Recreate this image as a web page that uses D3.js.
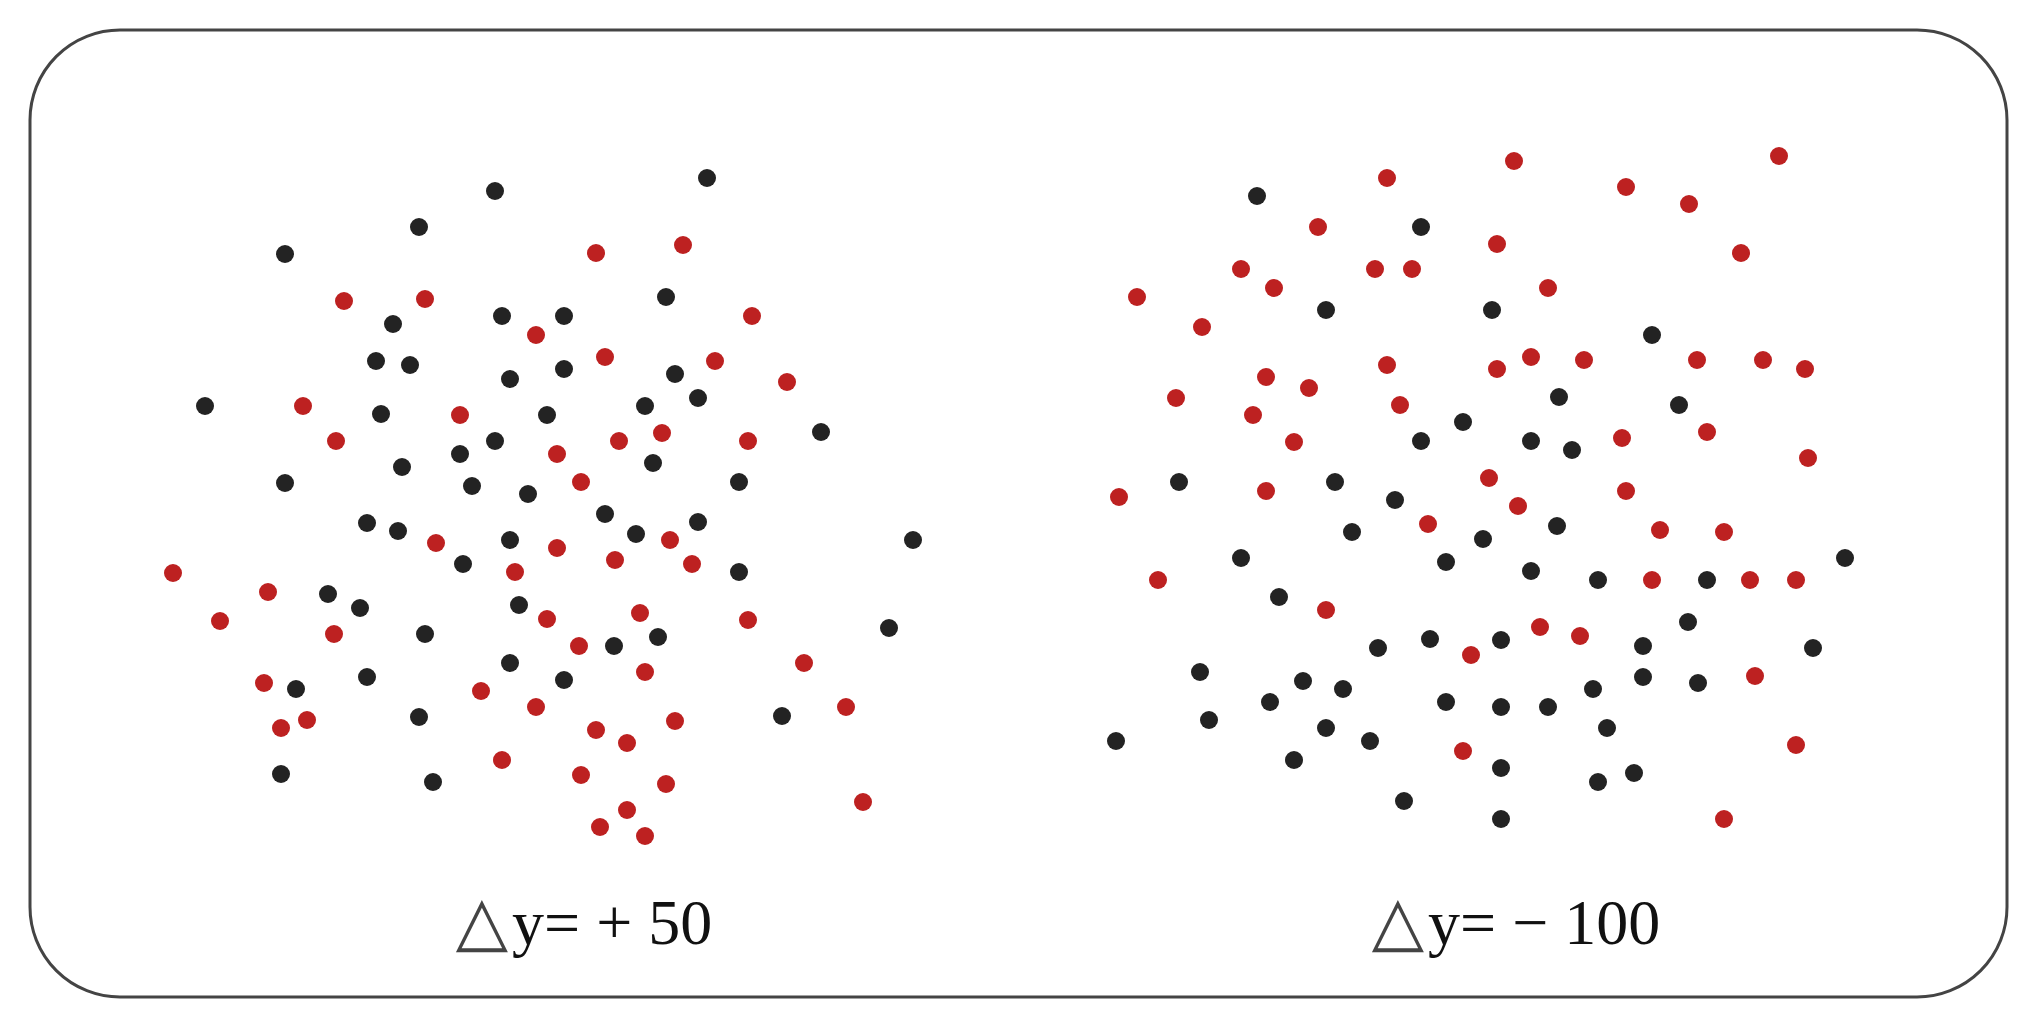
<!DOCTYPE html>
<html>
<head>
<meta charset="utf-8">
<script src="https://cdn.jsdelivr.net/npm/d3@7"></script>
<style>
  html, body { margin: 0; padding: 0; background: #fff; }
  .label { font-family: "Liberation Serif", "DejaVu Serif", serif; font-size: 64px; fill: #111; }
  .tri { font-family: "DejaVu Sans", sans-serif; font-size: 68px; }
</style>
</head>
<body>
<div id="chart"></div>
<script>
// Panel labels
const labels = ["y= + 50", "y= \u2212 100"];

// Left panel (dy = +50), points as [x, y] in panel units
const leftBlack = [
  [345, 669], [269, 633], [135, 606], [243, 536], [352, 544], [226, 499], [260, 495],
  [360, 481], [55, 454], [231, 446], [397, 445], [345, 419], [310, 406], [252, 393],
  [135, 377], [322, 374], [378, 366], [557, 682], [516, 563], [414, 544], [414, 491],
  [525, 486], [548, 462], [495, 454], [671, 428], [503, 397], [589, 378], [455, 346],
  [217, 337], [248, 329], [360, 320], [313, 296], [178, 266], [210, 252], [369, 255],
  [275, 226], [360, 197], [146, 171], [217, 183], [269, 143], [131, 86], [283, 78],
  [486, 326], [548, 338], [763, 320], [589, 288], [739, 232], [464, 214], [508, 223],
  [414, 180], [632, 144]
];
const leftRed = [
  [194, 559], [275, 561], [386, 525], [153, 454], [310, 445], [186, 419], [407, 406],
  [446, 607], [533, 615], [602, 544], [455, 503], [565, 499], [637, 478], [512, 427],
  [469, 419], [598, 419], [431, 378], [286, 317], [407, 312], [23, 287], [365, 288],
  [118, 268], [70, 239], [184, 226], [397, 241], [114, 177], [331, 169], [386, 153],
  [157, 140], [131, 132], [352, 100], [520, 320], [465, 300], [542, 296], [490, 247],
  [598, 240], [429, 214], [495, 188], [654, 197], [696, 153], [446, 130], [525, 139],
  [477, 117], [431, 85], [516, 76], [713, 58], [477, 50], [450, 33], [495, 24]
];

// Right panel (dy = -100)
const rightBlack = [
  [167, 664], [331, 633], [236, 550], [402, 550], [373, 438], [331, 419], [89, 378],
  [245, 378], [305, 360], [562, 525], [469, 463], [589, 455], [441, 419], [482, 410],
  [262, 328], [393, 321], [151, 302], [356, 298], [189, 263], [288, 212], [340, 221],
  [110, 188], [213, 179], [253, 171], [180, 158], [356, 158], [119, 140], [236, 132],
  [26, 119], [280, 119], [204, 100], [314, 59], [467, 334], [755, 302], [441, 289],
  [508, 280], [617, 280], [598, 238], [411, 220], [553, 214], [723, 212], [553, 183],
  [608, 177], [503, 171], [411, 153], [458, 153], [517, 132], [411, 92], [508, 78],
  [544, 87], [411, 41]
];
const rightRed = [
  [297, 682], [228, 633], [407, 616], [151, 591], [285, 591], [322, 591], [47, 563],
  [184, 572], [112, 533], [297, 495], [407, 491], [176, 483], [219, 472], [86, 462],
  [163, 445], [310, 455], [204, 418], [399, 382], [176, 369], [29, 363], [424, 699],
  [689, 704], [536, 673], [599, 656], [651, 607], [458, 572], [441, 503], [494, 500],
  [607, 500], [673, 500], [715, 491], [617, 428], [532, 422], [718, 402], [536, 369],
  [428, 354], [338, 336], [68, 280], [236, 250], [381, 205], [373, 109], [570, 330],
  [634, 328], [562, 280], [660, 280], [706, 280], [450, 233], [490, 224], [665, 184],
  [706, 115], [634, 41]
];

const W = 2040, H = 1027;
const colors = { black: "#232323", red: "#bd2121" };

const svg = d3.select("#chart").append("svg")
    .attr("width", W)
    .attr("height", H);

svg.append("rect")
    .attr("width", W).attr("height", H)
    .attr("fill", "#fff");

// rounded frame
svg.append("rect")
    .attr("x", 30).attr("y", 30)
    .attr("width", 1977).attr("height", 967)
    .attr("rx", 90).attr("ry", 90)
    .attr("fill", "none")
    .attr("stroke", "#444")
    .attr("stroke-width", 3);

const y = d3.scaleLinear().domain([0, 720]).range([860, 140]);

const panels = [
  { left: 150, black: leftBlack, red: leftRed, label: labels[0], labelX: 584 },
  { left: 1090, black: rightBlack, red: rightRed, label: labels[1], labelX: 1516 }
];

panels.forEach(p => {
  const x = d3.scaleLinear().domain([0, 800]).range([p.left, p.left + 800]);
  const g = svg.append("g");

  g.selectAll(".black")
      .data(p.black)
    .enter().append("circle")
      .attr("class", "black")
      .attr("cx", d => x(d[0]))
      .attr("cy", d => y(d[1]))
      .attr("r", 9)
      .attr("fill", colors.black);

  g.selectAll(".red")
      .data(p.red)
    .enter().append("circle")
      .attr("class", "red")
      .attr("cx", d => x(d[0]))
      .attr("cy", d => y(d[1]))
      .attr("r", 9)
      .attr("fill", colors.red);

  const t = g.append("text")
      .attr("class", "label")
      .attr("x", p.labelX)
      .attr("y", 944)
      .attr("text-anchor", "middle");
  t.append("tspan").attr("class", "tri").attr("fill", "#444").text("\u25B3");
  t.append("tspan").attr("dx", 4).text(p.label);
});
</script>
</body>
</html>
